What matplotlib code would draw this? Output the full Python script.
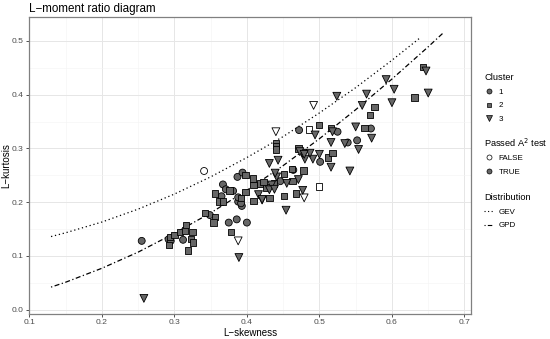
import matplotlib.pyplot as plt
from matplotlib.lines import Line2D
from matplotlib.ticker import MultipleLocator

plt.rcParams['font.family'] = ['Liberation Sans', 'DejaVu Sans']

# theoretical curves
gev_t3 = [0.13, 0.15, 0.20, 0.25, 0.30, 0.35, 0.40, 0.45, 0.50, 0.55, 0.60, 0.64]
gev_t4 = [0.136, 0.143, 0.163, 0.187, 0.215, 0.247, 0.283, 0.322, 0.366, 0.413, 0.464, 0.507]
gpd_t3 = [0.13, 0.15, 0.20, 0.25, 0.30, 0.35, 0.40, 0.45, 0.50, 0.55, 0.60, 0.65, 0.67]
gpd_t4 = [0.042, 0.051, 0.077, 0.107, 0.142, 0.180, 0.222, 0.268, 0.318, 0.372, 0.429, 0.489, 0.514]

# cluster 1 (circles)
c1_skew = [0.255, 0.341, 0.292, 0.295, 0.312, 0.349, 0.375, 0.386, 0.400, 0.367,
           0.365, 0.371, 0.381, 0.388, 0.393, 0.387, 0.394, 0.392, 0.388, 0.446,
           0.464, 0.501, 0.472, 0.525, 0.571, 0.539, 0.552]
c1_kurt = [0.128, 0.258, 0.131, 0.128, 0.130, 0.176, 0.162, 0.168, 0.162, 0.233,
           0.211, 0.224, 0.221, 0.201, 0.193, 0.247, 0.255, 0.198, 0.209, 0.239,
           0.260, 0.275, 0.334, 0.331, 0.337, 0.311, 0.315]
c1_pass = [True, False] + [True] * 25

# cluster 2 (squares)
c2_skew = [0.293, 0.294, 0.300, 0.308, 0.315, 0.316, 0.325, 0.323, 0.326, 0.319,
           0.342, 0.356, 0.354, 0.378, 0.356, 0.362, 0.367, 0.376, 0.392, 0.398,
           0.398, 0.408, 0.409, 0.409, 0.418, 0.499, 0.468, 0.451, 0.512, 0.518,
           0.478, 0.462, 0.463, 0.451, 0.437, 0.431, 0.427, 0.423, 0.486, 0.499,
           0.516, 0.562, 0.440, 0.440, 0.440, 0.471, 0.643, 0.631, 0.576, 0.570]
c2_kurt = [0.120, 0.135, 0.139, 0.145, 0.147, 0.157, 0.144, 0.131, 0.125, 0.110,
           0.180, 0.172, 0.162, 0.144, 0.216, 0.201, 0.201, 0.222, 0.208, 0.219,
           0.250, 0.244, 0.232, 0.202, 0.235, 0.229, 0.216, 0.211, 0.283, 0.292,
           0.259, 0.262, 0.239, 0.252, 0.235, 0.208, 0.227, 0.238, 0.335, 0.344,
           0.338, 0.338, 0.310, 0.304, 0.298, 0.300, 0.452, 0.395, 0.377, 0.362]
c2_pass = [True] * 25 + [False] + [True] * 12 + [False] + [True] * 11

# cluster 3 (down triangles)
c3_skew = [0.258, 0.388, 0.389, 0.416, 0.421, 0.431, 0.479, 0.477, 0.454, 0.542,
           0.516, 0.491, 0.500, 0.480, 0.477, 0.471, 0.455, 0.441, 0.439, 0.443,
           0.434, 0.431, 0.421, 0.438, 0.492, 0.524, 0.559, 0.440, 0.494, 0.518,
           0.550, 0.572, 0.516, 0.535, 0.554, 0.487, 0.473, 0.479, 0.647, 0.650,
           0.603, 0.592, 0.565, 0.600]
c3_kurt = [0.021, 0.128, 0.097, 0.214, 0.204, 0.272, 0.208, 0.222, 0.185, 0.258,
           0.265, 0.280, 0.289, 0.280, 0.291, 0.242, 0.235, 0.247, 0.254, 0.278,
           0.232, 0.223, 0.205, 0.224, 0.380, 0.397, 0.380, 0.331, 0.325, 0.331,
           0.340, 0.319, 0.311, 0.309, 0.298, 0.291, 0.294, 0.289, 0.444, 0.403,
           0.410, 0.428, 0.401, 0.385]
c3_pass = [True, False, True, True, True, True, False] + [True] * 17 + \
          [False, True, True, False] + [True] * 16

FILL_TRUE = '#666666'
FILL_FALSE = 'white'

fig = plt.figure(figsize=(5.5, 3.39), dpi=100)
ax = fig.add_axes([29 / 550, 24.7 / 339, 442 / 550, 297.6 / 339])

ax.plot(gev_t3, gev_t4, color='black', lw=0.9, linestyle=(0, (1, 2.2)), zorder=2)
ax.plot(gpd_t3, gpd_t4, color='black', lw=0.9, linestyle=(0, (1, 2, 4, 2)), zorder=2)

for sk, ku, ps, mk, sz in [(c1_skew, c1_kurt, c1_pass, 'o', 25),
                           (c2_skew, c2_kurt, c2_pass, 's', 21),
                           (c3_skew, c3_kurt, c3_pass, 'v', 32)]:
    cols = [FILL_TRUE if p else FILL_FALSE for p in ps]
    ax.scatter(sk, ku, s=sz, marker=mk, c=cols, edgecolors='black',
               linewidths=0.6, zorder=3)

ax.set_xlim(0.0996, 0.709)
ax.set_ylim(-0.0086, 0.545)
ax.xaxis.set_minor_locator(MultipleLocator(0.05))
ax.yaxis.set_minor_locator(MultipleLocator(0.05))
ax.set_xticks([0.1, 0.2, 0.3, 0.4, 0.5, 0.6, 0.7])
ax.set_xticklabels(['0.1', '0.2', '0.3', '0.4', '0.5', '0.6', '0.7'])
ax.set_yticks([0.0, 0.1, 0.2, 0.3, 0.4, 0.5])
ax.set_yticklabels(['0.0', '0.1', '0.2', '0.3', '0.4', '0.5'])
ax.grid(which='major', color='#e6e6e6', lw=0.7)
ax.grid(which='minor', color='#f3f3f3', lw=0.4)
ax.set_axisbelow(True)
ax.tick_params(which='major', length=2.2, width=0.6, color='#333333',
               labelsize=6.1, labelcolor='#4d4d4d', pad=1.5)
ax.tick_params(which='minor', length=0)
for s in ax.spines.values():
    s.set_color('#808080')
    s.set_linewidth(0.9)

ax.set_xlabel('L\u2212skewness', fontsize=7.0, labelpad=1)
ax.set_ylabel('L\u2212kurtosis', fontsize=7.0)
ax.yaxis.set_label_coords(-0.041, 0.5)
fig.text(29 / 550, 1 - 9 / 339, 'L\u2212moment ratio diagram', fontsize=8.4,
         va='center', ha='left')

# legends
def mk_handle(marker, fill, ms):
    return Line2D([], [], linestyle='none', marker=marker, markersize=ms,
                  markerfacecolor=fill, markeredgecolor='black', markeredgewidth=0.5)

leg_kw = dict(frameon=False, fontsize=5.8, title_fontsize=6.7, handlelength=1.2,
              handletextpad=0.6, labelspacing=0.75, borderpad=0, alignment='left')

h1 = [mk_handle('o', FILL_TRUE, 3.6), mk_handle('s', FILL_TRUE, 3.4),
      mk_handle('v', FILL_TRUE, 4.0)]
leg1 = ax.legend(h1, ['1', '2', '3'], title='Cluster', loc='upper left',
                 bbox_to_anchor=(480 / 550, 1 - 69 / 339),
                 bbox_transform=fig.transFigure, **leg_kw)
ax.add_artist(leg1)

h2 = [mk_handle('o', FILL_FALSE, 3.6), mk_handle('o', FILL_TRUE, 3.6)]
leg2 = ax.legend(h2, ['FALSE', 'TRUE'], title='Passed A$^2$ test', loc='upper left',
                 bbox_to_anchor=(480 / 550, 1 - 132 / 339),
                 bbox_transform=fig.transFigure, **leg_kw)
ax.add_artist(leg2)

h3 = [Line2D([], [], color='black', lw=0.8, linestyle=(0, (1, 2.2))),
      Line2D([], [], color='black', lw=0.8, linestyle=(0, (1, 2, 4, 2)))]
leg3 = ax.legend(h3, ['GEV', 'GPD'], title='Distribution', loc='upper left',
                 bbox_to_anchor=(480 / 550, 1 - 189 / 339),
                 bbox_transform=fig.transFigure, **leg_kw)

fig.savefig('out.png', dpi=100)
